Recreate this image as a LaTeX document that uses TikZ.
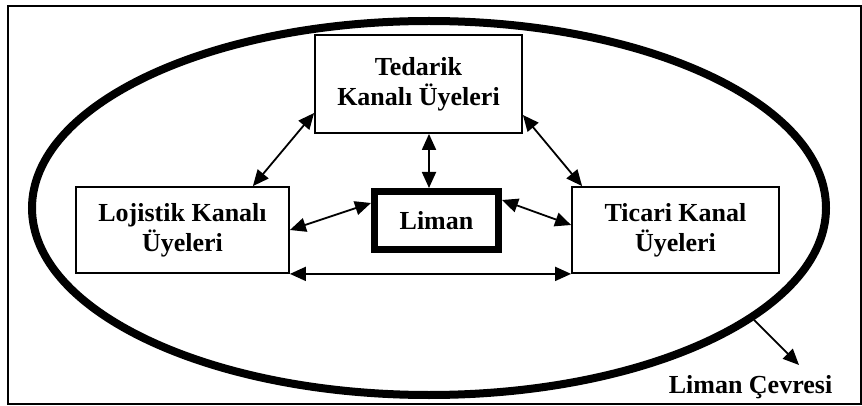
\documentclass[tikz,border=0pt]{standalone}
\usepackage{fontspec}
\setmainfont{Liberation Serif}
\usetikzlibrary{arrows.meta,shapes.geometric}
\begin{document}
\begin{tikzpicture}[x=1pt,y=-1pt,
  boxstyle/.style={draw=black,line width=1.8pt,inner sep=0pt,align=center,
     font=\fontsize{26}{30}\selectfont\bfseries},
  dbl/.style={{Triangle[length=16pt,width=14pt]}-{Triangle[length=16pt,width=14pt]},line width=1.8pt},
  sgl/.style={-{Triangle[length=16pt,width=14pt]},line width=1.8pt},
  lbl/.style={font=\fontsize{26}{30}\selectfont\bfseries,inner sep=0pt}]
\useasboundingbox (0,0) rectangle (862,406);
\draw[line width=2pt] (8,6) rectangle (860.5,403.5);
\node[draw=black,ellipse,line width=8pt,inner sep=0pt,minimum width=794pt,minimum height=374pt] (env) at (429,208) {};
\node[boxstyle,minimum width=207pt,minimum height=98pt] (ted) at (418.5,84) {Tedarik\\Kanalı Üyeleri};
\node[boxstyle,minimum width=213pt,minimum height=86pt] (loj) at (182.5,230) {Lojistik Kanalı\\Üyeleri};
\node[boxstyle,minimum width=207pt,minimum height=86pt] (tic) at (675.5,230) {Ticari Kanal\\Üyeleri};
\node[boxstyle,line width=7pt,outer sep=3.5pt,minimum width=124pt,minimum height=58pt] (liman) at (436.5,220.5) {Liman};
\draw[dbl] ([xshift=-7.5pt]ted.south -| liman.north) -- ([xshift=-7.5pt]liman.north);
\draw[dbl] ([yshift=-29pt]ted.west) -- ([xshift=-37pt]loj.north east);
\draw[dbl] ([yshift=-31pt]ted.east) -- ([xshift=11pt]tic.north west);
\draw[dbl] (loj.east) -- ([yshift=17.5pt]liman.west);
\draw[dbl] ([yshift=20.5pt]liman.east) -- ([yshift=5pt]tic.west);
\draw[dbl] (loj.south east) -- (tic.south west);
\coordinate (cev) at (799,365);
\draw[sgl] (env.-19) -- (cev);
\node[lbl,anchor=base] (cevtxt) at (750.5,393) {Liman Çevresi};
\end{tikzpicture}
\end{document}
